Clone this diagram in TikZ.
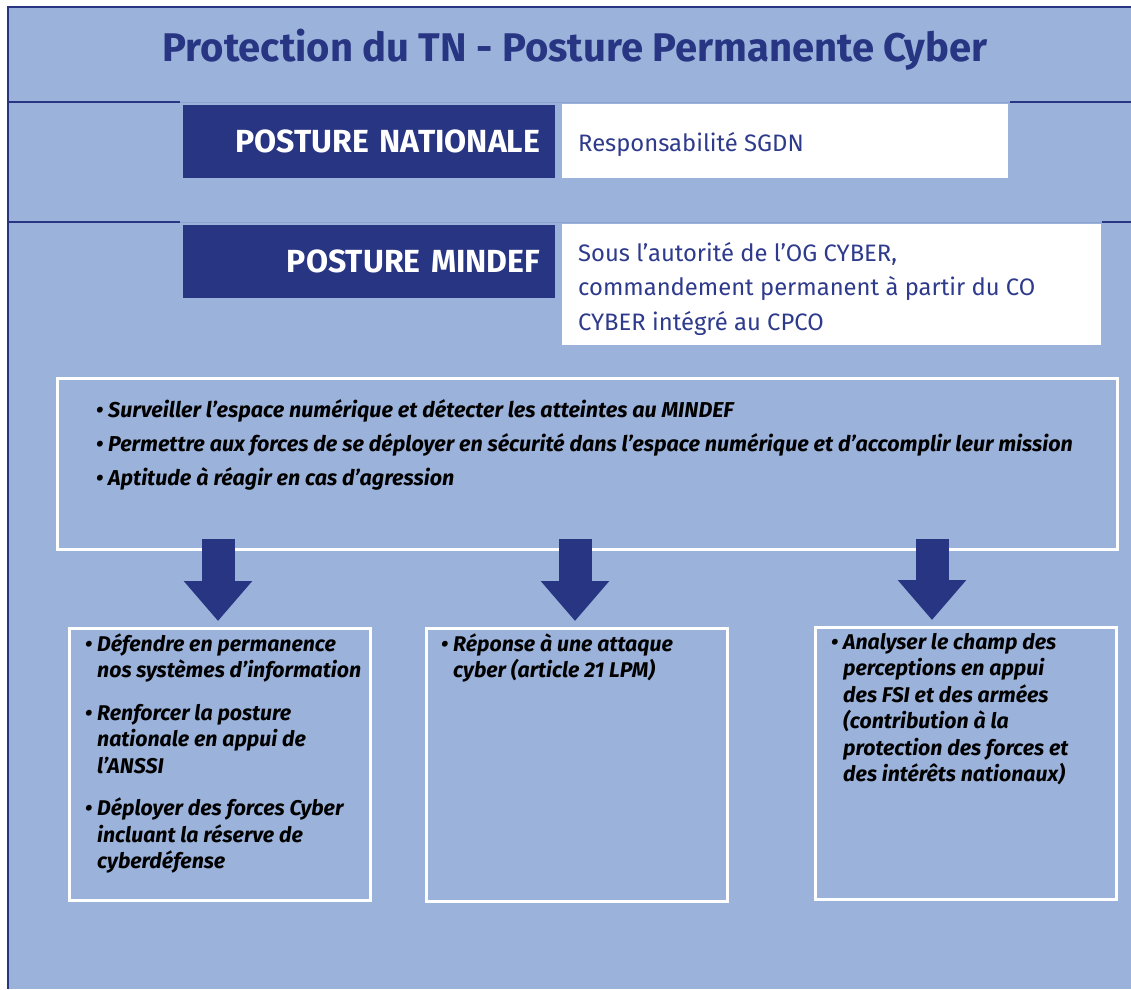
\documentclass[tikz,border=0pt]{standalone}
\usepackage{fontspec}
\setmainfont{Fira Sans}
\usetikzlibrary{arrows.meta}
\definecolor{bgblue}{HTML}{9BB2DB}
\definecolor{navy}{HTML}{283583}
\definecolor{navytext}{HTML}{2E3A8C}
\definecolor{faint}{HTML}{8AA4D2}
\begin{document}
\begin{tikzpicture}[x=1pt,y=-1pt,
  frameline/.style={navy, line width=2.5pt},
  faintline/.style={faint, line width=1pt},
  darkbox/.style={fill=navy, text=white, inner xsep=15pt, inner ysep=0pt,
    font=\fontsize{32}{38}\selectfont\bfseries, align=right, anchor=north west},
  whitebox/.style={fill=white, inner sep=0pt, anchor=north west},
  whitetext/.style={text=navytext, inner sep=0pt, anchor=north west, align=left,
    font=\fontsize{23.8}{34.5}\selectfont},
  outlinebox/.style={draw=white, line width=3pt, inner sep=0pt, anchor=north west},
  bullettext/.style={inner sep=0pt, anchor=north west, align=left, text=black,
    font=\fontsize{21.3}{26.5}\selectfont\bfseries\itshape},
  bigarrow/.style={draw=navy, line width=33pt,
    -{Triangle[width=66pt,length=40pt]}},
]
\useasboundingbox (0,0) rectangle (1131,989);
\fill[white] (0,0) rectangle (1131,989);
\fill[bgblue] (8,7) rectangle (1131,989);
% frame
\draw[frameline] (1131,7) -- (8,7) -- (8,989);
% separators
\draw[frameline] (8,102) -- (180,102);
\draw[frameline] (1010,102) -- (1131,102);
\draw[faintline] (180,102.5) -- (1010,102.5);
\draw[frameline] (8,222) -- (180,222);
\draw[frameline] (1102,222) -- (1131,222);
\draw[faintline] (180,222.5) -- (1102,222.5);

% title
\node[text=navy, font=\fontsize{40}{46}\selectfont\bfseries, anchor=base, inner sep=0pt]
  (title) at (575,61) {Protection du TN - Posture Permanente Cyber};

% posture nationale
\node[darkbox, minimum width=372pt, minimum height=73pt, text width=342pt]
  (pn) at (183,105) {POSTURE NATIONALE};
\node[whitebox, minimum width=446pt, minimum height=74pt] (pnw) at (562,104) {};
\node[whitetext] (pnwt) at (578,151-24.15) {\strut Responsabilité SGDN};

% posture mindef
\node[darkbox, minimum width=372pt, minimum height=73pt, text width=342pt]
  (pm) at (183,225) {POSTURE MINDEF};
\node[whitebox, minimum width=539pt, minimum height=121pt] (pmw) at (562,224) {};
\node[whitetext] (pmwt) at (578,261-24.15) {\strut Sous l’autorité de l’OG CYBER,\\commandement permanent à partir du CO\\CYBER intégré au CPCO};

% big box
\node[outlinebox, minimum width=1060pt, minimum height=171pt] (big) at (56,377) {};
\node[bullettext, font=\fontsize{21.5}{34}\selectfont\bfseries\itshape]
  (bigt) at (108,417-23.8) {\strut\llap{• }Surveiller l’espace numérique et détecter les atteintes au MINDEF\\
  \llap{• }Permettre aux forces de se déployer en sécurité dans l’espace numérique et d’accomplir leur mission\\
  \llap{• }Aptitude à réagir en cas d’agression};

% bottom boxes
\node[outlinebox, minimum width=301pt, minimum height=272pt] (b1) at (68,627) {};
\node[outlinebox, minimum width=301pt, minimum height=273pt] (b2) at (425,627) {};
\node[outlinebox, minimum width=301pt, minimum height=272pt] (b3) at (814,626) {};

\node[bullettext] (b1t) at (97,651-18.55) {\strut\llap{• }Défendre en permanence\\nos systèmes d’information\\[16pt]
  \llap{• }Renforcer la posture\\nationale en appui de\\l’ANSSI\\[16pt]
  \llap{• }Déployer des forces Cyber\\incluant la réserve de\\cyberdéfense};
\node[bullettext] (b2t) at (453,651-18.55) {\strut\llap{• }Réponse à une attaque\\cyber (article 21 LPM)};
\node[bullettext] (b3t) at (843,649-18.55) {\strut\llap{• }Analyser le champ des\\perceptions en appui\\des FSI et des armées\\(contribution à la\\protection des forces et\\des intérêts nationaux)};

% arrows
\draw[bigarrow] ([yshift=12pt]big.south -| 218,0) -- ([yshift=6pt]b1.north -| 218,0);
\draw[bigarrow] ([yshift=12pt]big.south -| 575,0) -- ([yshift=6pt]b2.north -| 575,0);
\draw[bigarrow] ([yshift=12pt]big.south -| 932,0) -- ([yshift=6pt]b3.north -| 932,0);
\end{tikzpicture}
\end{document}
